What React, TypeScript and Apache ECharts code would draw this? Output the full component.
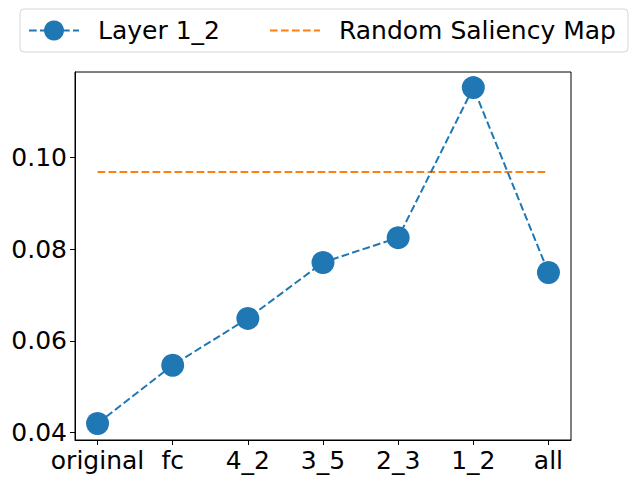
import React, { useEffect, useRef } from "react";
import * as echarts from "echarts";

const categories = ["original", "fc", "4_2", "3_5", "2_3", "1_2", "all"];
const layerValues = [0.0420, 0.0547, 0.0649, 0.0771, 0.0825, 0.1152, 0.0749];
const randomValue = 0.0968;
const yTicks = [0.04, 0.06, 0.08, 0.1];

export default function App() {
  const ref = useRef<HTMLDivElement>(null);
  useEffect(() => {
    const chart = echarts.init(ref.current!, null, { renderer: "svg" });
    const font = "DejaVu Sans";
    const fs = 25;
    chart.setOption({
      animation: false,
      textStyle: { fontFamily: font },
      grid: {
        left: 75,
        top: 72,
        right: 67,
        bottom: 44,
        show: true,
        borderColor: "#000",
        borderWidth: 1,
        containLabel: false,
      },
      legend: {
        left: 20,
        top: 9,
        padding: [9, 12, 9, 8],
        itemWidth: 50,
        itemHeight: 25,
        itemGap: 49,
        borderColor: "#d6d6d6",
        borderWidth: 1,
        borderRadius: 4,
        textStyle: { fontFamily: font, fontSize: fs, color: "#000", padding: [0, 0, 0, 14] },
        data: [
          { name: "Layer 1_2" },
          { name: "Random Saliency Map", itemStyle: { opacity: 0 } },
        ],
      },
      xAxis: {
        type: "value",
        min: -0.3,
        max: 6.3,
        splitLine: { show: false },
        axisLine: { show: true, onZero: false, lineStyle: { color: "#000", width: 1 } },
        axisTick: { show: true, length: 5, lineStyle: { color: "#000" }, customValues: categories.map((_, i) => i) },
        axisLabel: {
          customValues: categories.map((_, i) => i),
          formatter: (v: number) => categories[Math.round(v)] ?? "",
          fontFamily: font,
          fontSize: fs,
          color: "#000",
          margin: 8,
        },
      },
      yAxis: {
        type: "value",
        min: 0.0384,
        max: 0.1186,
        splitLine: { show: false },
        axisLine: { show: true, onZero: false, lineStyle: { color: "#000", width: 1 } },
        axisTick: { show: true, length: 5, lineStyle: { color: "#000" }, customValues: yTicks },
        axisLabel: {
          customValues: yTicks,
          formatter: (v: number) => v.toFixed(2),
          fontFamily: font,
          fontSize: fs,
          color: "#000",
          margin: 8,
        },
      },
      series: [
        {
          name: "Layer 1_2",
          type: "line",
          data: layerValues.map((v, i) => [i, v]),
          symbol: "circle",
          symbolSize: 23,
          itemStyle: { color: "#1f77b4" },
          lineStyle: { color: "#1f77b4", width: 2, type: [7.7, 3.3] },
          z: 3,
        },
        {
          name: "Random Saliency Map",
          type: "line",
          data: [[0, randomValue], [categories.length - 1, randomValue]],
          symbol: "none",
          itemStyle: { color: "#ff7f0e" },
          lineStyle: { color: "#ff7f0e", width: 2, type: [7.7, 3.3] },
          z: 2,
        },
      ],
    });
    return () => chart.dispose();
  }, []);
  return <div ref={ref} style={{ width: 638, height: 484, position: "absolute", left: 0, top: 0 }} />;
}
